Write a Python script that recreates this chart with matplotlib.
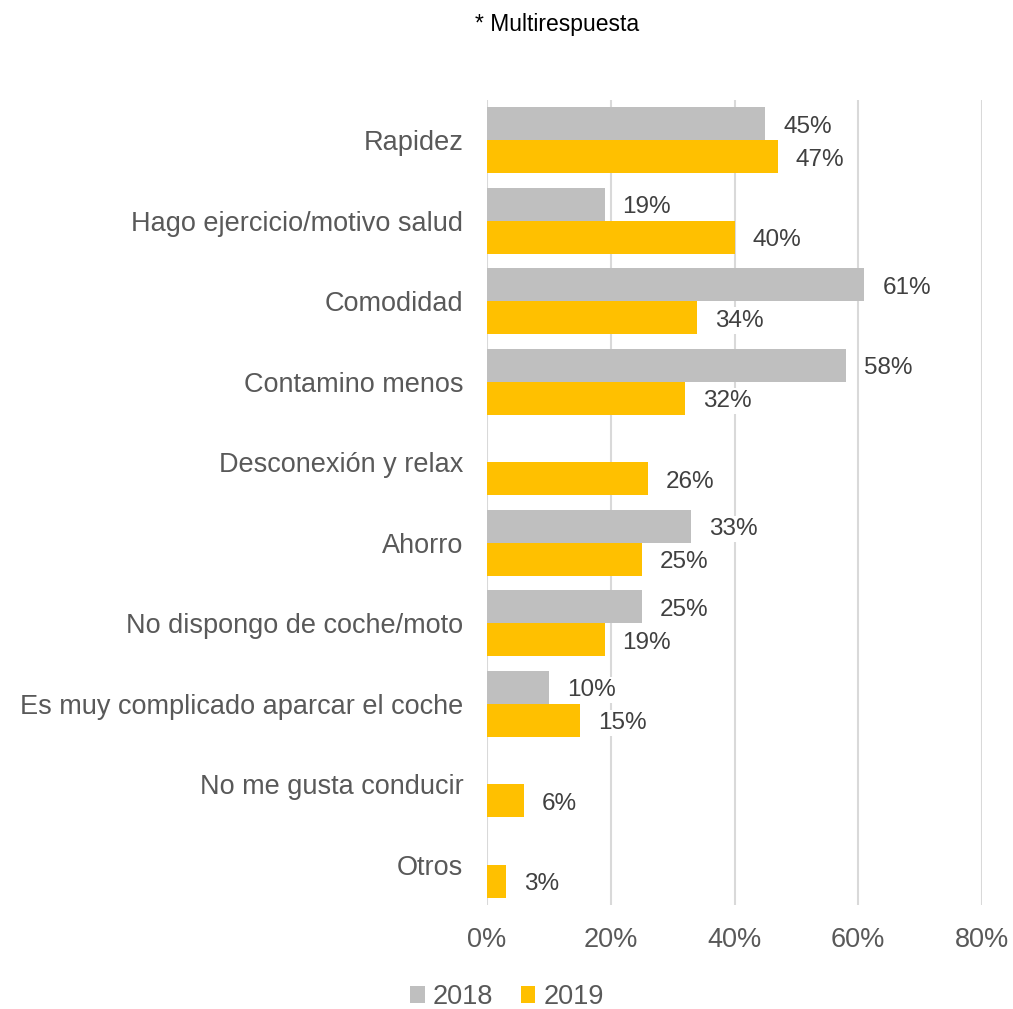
import numpy as np
import matplotlib.pyplot as plt

plt.rcParams['font.family'] = ['Liberation Sans', 'DejaVu Sans']

# Motivos de uso (multirespuesta), en %
categorias = ['Rapidez', 'Hago ejercicio/motivo salud', 'Comodidad', 'Contamino menos',
              'Desconexión y relax', 'Ahorro', 'No dispongo de coche/moto',
              'Es muy complicado aparcar el coche', 'No me gusta conducir', 'Otros']
v2018 = [45, 19, 61, 58, None, 33, 25, 10, None, None]
v2019 = [47, 40, 34, 32, 26, 25, 19, 15, 6, 3]
ticks = [0, 20, 40, 60, 80]

gris = '#bfbfbf'
amarillo = '#ffc000'

fig = plt.figure(figsize=(10.13, 10.09), dpi=100)
ax = fig.add_axes([487 / 1013, 1 - 905 / 1009, (982 - 487) / 1013, (905 - 100) / 1009])

y = np.arange(len(categorias))
h = 0.41
ax.barh([yy - h / 2 for yy, v in zip(y, v2018) if v is not None],
        [v for v in v2018 if v is not None], height=h, color=gris, label='2018', zorder=2)
ax.barh(y + h / 2, v2019, height=h, color=amarillo, label='2019', zorder=2)

# etiquetas de valor con fondo blanco
for yy, v in zip(y, v2018):
    if v is not None:
        ax.annotate(f'{v}%', (v, yy - h / 2), xytext=(13, -2), textcoords='offset points',
                    va='center', ha='left', fontsize=17.5, color='#404040', zorder=3,
                    bbox=dict(boxstyle='square,pad=0.1', fc='white', ec='none'))
for yy, v in zip(y, v2019):
    ax.annotate(f'{v}%', (v, yy + h / 2), xytext=(13, -2), textcoords='offset points',
                va='center', ha='left', fontsize=17.5, color='#404040', zorder=3,
                bbox=dict(boxstyle='square,pad=0.1', fc='white', ec='none'))

ax.set_xlim(0, 80)
ax.set_ylim(len(categorias) - 0.5, -0.5)
ax.set_xticks(ticks)
ax.set_xticklabels([f'{t}%' for t in ticks])
ax.set_yticks(y)
ax.set_yticklabels(categorias)
ax.tick_params(axis='both', length=0, labelsize=19.5, labelcolor='#595959')
ax.tick_params(axis='y', pad=17)
ax.tick_params(axis='x', pad=16)
ax.grid(axis='x', color='#d9d9d9', linewidth=1.5, zorder=0)
for s in ax.spines.values():
    s.set_visible(False)

fig.text(557 / 1013, 1 - 24 / 1009, '* Multirespuesta', ha='center', va='center',
         fontsize=16.5, color='black')

fig.legend(loc='center', bbox_to_anchor=(507 / 1013, 1 - 997 / 1009), ncol=2,
           frameon=False, fontsize=19.5, handlelength=0.55, handleheight=0.55,
           handletextpad=0.3, columnspacing=1.0, labelcolor='#595959')

fig.savefig('out.png', dpi=100)
